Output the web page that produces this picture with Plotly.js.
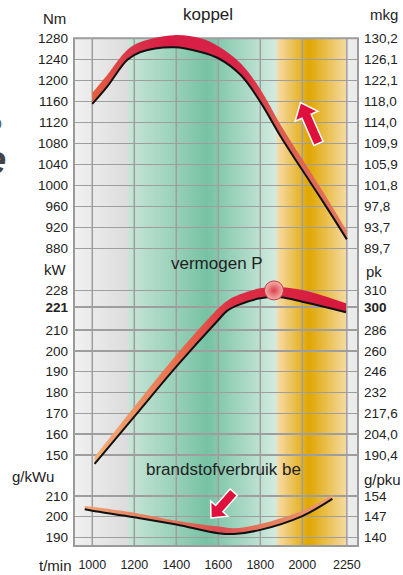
<!DOCTYPE html>
<html><head><meta charset="utf-8">
<script src="https://cdn.plot.ly/plotly-3.0.1.min.js"></script>
<style>html,body{margin:0;padding:0;background:#fff;} #chart{width:403px;height:575px;}</style>
</head><body><div id="chart"></div>
<script>
// ---------------- data ----------------
const xTickVals = [1000, 1200, 1400, 1600, 1800, 2000, 2212];
const xTickText = ['1000', '1200', '1400', '1600', '1800', '2000', '2250'];

const torqueTickVals = [880, 920, 960, 1000, 1040, 1080, 1120, 1160, 1200, 1240, 1280];
const torqueTickText = ['880', '920', '960', '1000', '1040', '1080', '1120', '1160', '1200', '1240', '1280'];
const mkgTickText = ['89,7', '93,7', '97,8', '101,8', '105,9', '109,9', '114,0', '118,0', '122,1', '126,1', '130,2'];

const powerTickVals = [150, 160, 170, 180, 190, 200, 210, 221, 229];
const powerTickText = ['150', '160', '170', '180', '190', '200', '210', '<b>221</b>', '228'];
const pkTickText = ['190,4', '204,0', '217,6', '232', '246', '260', '286', '<b>300</b>', '310'];

const fuelTickVals = [190, 200, 210];
const fuelTickText = ['190', '200', '210'];
const gpkuTickText = ['140', '147', '154'];

// koppel (Nm)
const rpmTorque  = [1000, 1071, 1167, 1230, 1389, 1516, 1600, 1707, 1800, 1897, 2000, 2103, 2212];
const torqueLow  = [1155, 1188, 1239, 1254, 1263, 1254, 1242, 1210, 1159, 1093, 1029, 966, 897];
const torqueHigh = [1176, 1210, 1258, 1273, 1286, 1280, 1265, 1232, 1183, 1115, 1050, 985, 913];

// vermogen P (kW)
const rpmPower  = [1011, 1200, 1400, 1600, 1643, 1700, 1800, 1895, 2000, 2103, 2208];
const powerLow  = [145.7, 168.4, 192.4, 214.8, 219.3, 222.2, 225.2, 225.7, 223.6, 221.2, 218.5];
const powerHigh = [149.2, 173.2, 198.0, 220.4, 224.1, 227.0, 230.0, 230.5, 229.2, 226.3, 222.8];
const maxPowerRpm = [1865];
const maxPowerKw = [229];
const ratedPowerKw = 221;

// brandstofverbruik be (g/kWh)
const rpmFuel  = [964, 1000, 1200, 1400, 1600, 1675, 1800, 2000, 2143];
const fuelLow  = [203.6, 202.9, 199.7, 196.2, 192.0, 191.6, 193.6, 200.3, 208.6];
const fuelHigh = [205.2, 204.8, 201.9, 198.0, 195.2, 194.4, 196.5, 202.9, 210.5];

// ---------------- geometry / style ----------------
const L = 74, R = 358, T = 33, B = 546;
const PX = X => (X - L) / (R - L);
const PY = Y => (B - Y) / (B - T);
const FRAME_TOP = PY(38.3);
const XR = [912.9, 2265.2];
const GRID = '#9e9e9e';
const FONT_R = '"Liberation Sans",Arial,Helvetica,sans-serif';
const TXT = '#222';

// background colour bands (rpm, colour)
const bgStops = [[912.9, '#f1f1f1'], [1170, '#dcdcdc'], [1170, '#c9e5d8'], [1548, '#76c2a3'], [1879, '#d4ebe0'],
  [1879, '#f6dcaa'], [2030, '#e0a600'], [2208, '#f4d9a0'], [2208, '#ebebeb'], [2266, '#ebebeb']];

function hex2rgb(h) { return [parseInt(h.substr(1, 2), 16), parseInt(h.substr(3, 2), 16), parseInt(h.substr(5, 2), 16)]; }
function bgColor(x) {
  for (let i = 0; i < bgStops.length - 1; i++) {
    const a = bgStops[i], b = bgStops[i + 1];
    if (x >= a[0] && x < b[0]) {
      const t = (x - a[0]) / (b[0] - a[0]);
      const ca = hex2rgb(a[1]), cb = hex2rgb(b[1]);
      return 'rgb(' + ca.map((v, k) => Math.round(v + (cb[k] - v) * t)).join(',') + ')';
    }
  }
  return bgStops[bgStops.length - 1][1];
}

const shapes = [];
const step = 3;
for (let x = XR[0]; x < XR[1]; x += step) {
  const c = bgColor(x + step / 2);
  shapes.push({type: 'rect', xref: 'x', yref: 'paper', x0: x, x1: Math.min(x + step + 3, XR[1]), y0: 0, y1: FRAME_TOP,
    fillcolor: c, line: {width: 0}, layer: 'below'});
}
xTickVals.forEach(v => shapes.push({type: 'line', xref: 'x', yref: 'paper', x0: v, x1: v, y0: 0, y1: FRAME_TOP,
  line: {color: GRID, width: 1.5}, layer: 'below'}));
shapes.push({type: 'line', xref: 'paper', yref: 'y2', x0: 0, x1: 1, y0: ratedPowerKw, y1: ratedPowerKw,
  line: {color: '#d8264c', width: 2}, layer: 'between'});
shapes.push({type: 'rect', xref: 'paper', yref: 'paper', x0: 0, x1: 1, y0: 0, y1: FRAME_TOP,
  line: {color: '#9a9a9a', width: 2}, fillcolor: 'rgba(0,0,0,0)', layer: 'between'});

function arrowPath(tip, tail, headLen, headHalf, shaftHalf) {
  const dx = tail[0] - tip[0], dy = tail[1] - tip[1];
  const len = Math.hypot(dx, dy), ux = dx / len, uy = dy / len, qx = -uy, qy = ux;
  const hb = [tip[0] + ux * headLen, tip[1] + uy * headLen];
  const pts = [tip,
    [hb[0] + qx * headHalf, hb[1] + qy * headHalf],
    [hb[0] + qx * shaftHalf, hb[1] + qy * shaftHalf],
    [tail[0] + qx * shaftHalf, tail[1] + qy * shaftHalf],
    [tail[0] - qx * shaftHalf, tail[1] - qy * shaftHalf],
    [hb[0] - qx * shaftHalf, hb[1] - qy * shaftHalf],
    [hb[0] - qx * headHalf, hb[1] - qy * headHalf]];
  return pts.map((p, i) => (i ? 'L' : 'M') + PX(p[0]).toFixed(5) + ',' + PY(p[1]).toFixed(5)).join(' ') + ' Z';
}
shapes.push({type: 'path', xref: 'paper', yref: 'paper', path: arrowPath([300.5, 102.5], [318.5, 143.5], 15, 12.5, 5),
  fillcolor: '#e0103c', line: {color: '#ffffff', width: 1.5}, layer: 'above'});
shapes.push({type: 'path', xref: 'paper', yref: 'paper', path: arrowPath([211, 518], [233.7, 492.2], 12.5, 11.5, 4.8),
  fillcolor: '#e0103c', line: {color: '#ffffff', width: 1.5}, layer: 'above'});

// ---------------- traces ----------------
function band(x, low, high, yaxis, scale) {
  return [
    {x: x, y: low, yaxis: yaxis, mode: 'lines', line: {width: 0, shape: 'spline'}, hoverinfo: 'skip', showlegend: false},
    {x: x, y: high, yaxis: yaxis, mode: 'lines', fill: 'tonexty', line: {width: 0, shape: 'spline'},
      fillgradient: {type: 'horizontal', colorscale: scale}, hoverinfo: 'skip', showlegend: false},
    {x: x, y: low, yaxis: yaxis, mode: 'lines', line: {color: '#111', width: 2, shape: 'spline'}, hoverinfo: 'skip', showlegend: false}
  ];
}
const torqueScale = [[0, '#e4603e'], [0.15, '#d9364a'], [0.3, '#d81c44'], [0.6, '#d82748'], [0.72, '#dc5a4e'], [1, '#e3785c']];
const powerScale = [[0, '#f4b27a'], [0.35, '#e76a4c'], [0.55, '#dc2f45'], [1, '#d5173c']];
const fuelScale = [[0, '#f0a474'], [0.4, '#e06a55'], [0.55, '#dc4a52'], [0.72, '#e57a5c'], [1, '#ee9c70']];

const data = [].concat(
  band(rpmTorque, torqueLow, torqueHigh, 'y', torqueScale),
  band(rpmPower, powerLow, powerHigh, 'y2', powerScale),
  band(rpmFuel, fuelLow, fuelHigh, 'y3', fuelScale),
  [{x: maxPowerRpm, y: maxPowerKw, yaxis: 'y2', mode: 'markers', cliponaxis: false, hoverinfo: 'skip', showlegend: false,
    marker: {size: 19, color: '#f7b3ac', gradient: {type: 'radial', color: '#d8404e'}, line: {color: '#c43645', width: 1}}},
   {x: [rpmTorque[0]], y: [torqueLow[0]], yaxis: 'y4', mode: 'markers', marker: {opacity: 0}, hoverinfo: 'skip', showlegend: false},
   {x: [rpmPower[0]], y: [powerLow[0]], yaxis: 'y5', mode: 'markers', marker: {opacity: 0}, hoverinfo: 'skip', showlegend: false},
   {x: [rpmFuel[1]], y: [fuelLow[1]], yaxis: 'y6', mode: 'markers', marker: {opacity: 0}, hoverinfo: 'skip', showlegend: false}]
);

// ---------------- layout ----------------
const tickFont = {family: FONT_R, size: 13.5, color: TXT};
function yax(range, vals, text, side, grid, overlay) {
  const a = {range: range, tickvals: vals, ticktext: text, side: side, showgrid: grid, gridcolor: GRID, gridwidth: 1.5,
    zeroline: false, showline: false, ticks: '', tickfont: tickFont, ticklabelstandoff: 5, fixedrange: true};
  if (overlay) a.overlaying = 'y';
  return a;
}
const rT = [313.0, 1290.1], rP = [106.3, 352.6], rF = [185.8, 434.2];

function ann(text, X, Y, xanchor, font) {
  return {text: text, xref: 'paper', yref: 'paper', x: PX(X), y: PY(Y), xanchor: xanchor, yanchor: 'middle',
    showarrow: false, font: font};
}
const unitFont = {family: FONT_R, size: 15, color: TXT};
const titleFont = {family: FONT_R, size: 17, color: TXT};

const layout = {
  width: 403, height: 575, autosize: false,
  margin: {l: L, r: 403 - R, t: T, b: 575 - B, pad: 0},
  paper_bgcolor: '#ffffff', plot_bgcolor: 'rgba(0,0,0,0)',
  showlegend: false,
  xaxis: {range: XR, tickvals: xTickVals, ticktext: xTickText, showgrid: false, zeroline: false, showline: false,
    ticks: '', tickfont: {family: FONT_R, size: 12.5, color: TXT}, ticklabelstandoff: 9, fixedrange: true},
  yaxis: yax(rT, torqueTickVals, torqueTickText, 'left', true, false),
  yaxis2: yax(rP, powerTickVals, powerTickText, 'left', true, true),
  yaxis3: yax(rF, fuelTickVals, fuelTickText, 'left', true, true),
  yaxis4: yax(rT, torqueTickVals, mkgTickText, 'right', false, true),
  yaxis5: yax(rP, powerTickVals, pkTickText, 'right', false, true),
  yaxis6: yax(rF, fuelTickVals, gpkuTickText, 'right', false, true),
  shapes: shapes,
  annotations: [
    ann('koppel', 208, 15, 'center', titleFont),
    ann('vermogen P', 217, 263, 'center', titleFont),
    ann('brandstofverbruik be', 223, 469, 'center', titleFont),
    ann('Nm', 54, 18, 'center', unitFont),
    ann('mkg', 368, 14, 'left', unitFont),
    ann('kW', 55.5, 269, 'center', unitFont),
    ann('pk', 364, 271, 'left', unitFont),
    ann('g/kWu', 33, 476, 'center', unitFont),
    ann('g/pku', 362, 479, 'left', unitFont),
    ann('t/min', 55, 565, 'center', unitFont),
    ann('o', 3.5, 123, 'right', {family: FONT_R, size: 18, color: '#666'}),
    ann('<b><i>e</i></b>', 8, 160, 'right', {family: FONT_R, size: 40, color: '#444'})
  ]
};

Plotly.newPlot('chart', data, layout, {staticPlot: true, displayModeBar: false});
</script>
</body></html>
